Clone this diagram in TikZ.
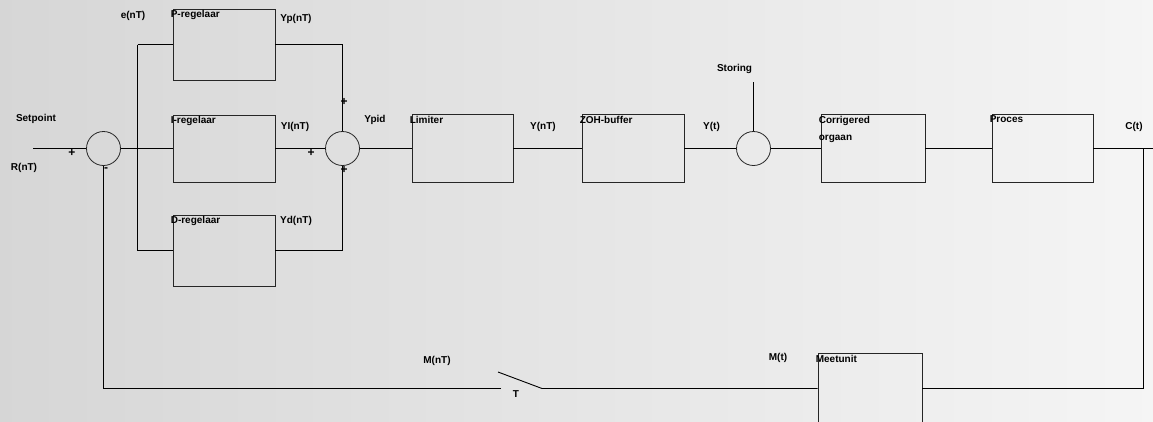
\documentclass[tikz,border=0pt]{standalone}
\usepackage{fontspec}
\setmainfont{Liberation Sans}
\begin{document}
\begin{tikzpicture}[x=1pt,y=-1pt,
  every node/.style={font=\bfseries\fontsize{10}{12}\selectfont},
  blk/.style={draw=black!85,line width=0.8pt,rectangle,inner sep=0pt},
  sumc/.style={draw=black!85,line width=0.8pt,circle,minimum size=34pt,inner sep=0pt},
  lbl/.style={inner sep=0pt},
  boxlbl/.style={inner sep=0pt,anchor=north west,xshift=-2pt,yshift=-1.5pt},
  sgn/.style={inner sep=0pt,font=\bfseries\fontsize{12}{12}\selectfont},
  wire/.style={line width=0.9pt,black}]
\useasboundingbox (0,0) rectangle (1153,421);
\shade[left color=black!16,right color=black!4] (0,0) rectangle (1153,421);
\clip (0,0) rectangle (1153,421);
% blocks
\node[blk,minimum width=102pt,minimum height=71pt,label={[boxlbl]north west:P-regelaar}] (P) at (224,44.5) {};
\node[blk,minimum width=102pt,minimum height=67pt,label={[boxlbl]north west:I-regelaar}] (I) at (224,148.5) {};
\node[blk,minimum width=102pt,minimum height=71pt,label={[boxlbl]north west:D-regelaar}] (D) at (224,250.5) {};
\node[blk,minimum width=101pt,minimum height=68pt,label={[boxlbl]north west:Limiter}] (Lim) at (462.5,148.5) {};
\node[blk,minimum width=102pt,minimum height=68pt,label={[boxlbl]north west:ZOH-buffer}] (ZOH) at (633,148.5) {};
\node[blk,minimum width=104pt,minimum height=68pt,label={[boxlbl,align=left,font=\bfseries\fontsize{10}{17}\selectfont]north west:Corrigered\\orgaan}] (Corr) at (873,148.5) {};
\node[blk,minimum width=101pt,minimum height=68pt,label={[boxlbl]north west:Proces}] (Proc) at (1042.5,148.5) {};
\node[blk,minimum width=104pt,minimum height=70pt,label={[boxlbl]north west:Meetunit}] (Meet) at (870,388.5) {};
% summing junctions
\node[sumc] (S1) at (103.5,148.5) {};
\node[sumc] (S2) at (342.5,148.5) {};
\node[sumc] (S3) at (753.5,148.5) {};
% coordinates
\coordinate (in) at (33,148.5);
\coordinate (br) at (137.5,148.5);
\coordinate (dist) at (753.5,82);
\coordinate (out) at (1153,148.5);
\coordinate (tap) at (1143.5,148.5);
\coordinate (swL) at (498,372);
\coordinate (swR) at (542,388.5);
\coordinate (swF) at (501,388.5);
% wires
\draw[wire] (in) -- (S1.west);
\draw[wire] (S1.east) -- (I.west);
\draw[wire] (br |- P.west) -- (P.west);
\draw[wire] (br |- P.west) -- (br |- D.west) -- (D.west);
\draw[wire] (P.east) -| (S2.north);
\draw[wire] (D.east) -| (S2.south);
\draw[wire] (I.east) -- (S2.west);
\draw[wire] (S2.east) -- (Lim.west);
\draw[wire] (Lim.east) -- (ZOH.west);
\draw[wire] (ZOH.east) -- (S3.west);
\draw[wire] (dist) -- (S3.north);
\draw[wire] (S3.east) -- (Corr.west);
\draw[wire] (Corr.east) -- (Proc.west);
\draw[wire] (Proc.east) -- (out);
\draw[wire] (tap) |- (Meet.east);
\draw[wire] (Meet.west) -- (swR) -- (swL);
\draw[wire] (swF) -| (S1.south);
% labels
\node[lbl] (lSet) at (36,119) {Setpoint};
\node[lbl] (lR) at (24,168) {R(nT)};
\node[lbl] (le) at (133,16) {e(nT)};
\node[lbl] (lYp) at (296,19) {Yp(nT)};
\node[lbl] (lYi) at (295,127) {YI(nT)};
\node[lbl] (lYd) at (296,221) {Yd(nT)};
\node[lbl] (lYpid) at (375,120) {Ypid};
\node[lbl] (lYn) at (543,127) {Y(nT)};
\node[lbl] (lYt) at (711.5,127) {Y(t)};
\node[lbl] (lSt) at (734.5,69) {Storing};
\node[lbl] (lC) at (1134,127) {C(t)};
\node[lbl] (lMn) at (437,361) {M(nT)};
\node[lbl] (lT) at (516,394) {T};
\node[lbl] (lMt) at (778,358) {M(t)};
% signs
\node[sgn] (p1) at (72,153) {+};
\node[sgn] (m1) at (106,170) {-};
\node[sgn] (p2) at (344,102) {+};
\node[sgn] (p3) at (311,153) {+};
\node[sgn] (p4) at (344,170) {+};
\end{tikzpicture}
\end{document}
